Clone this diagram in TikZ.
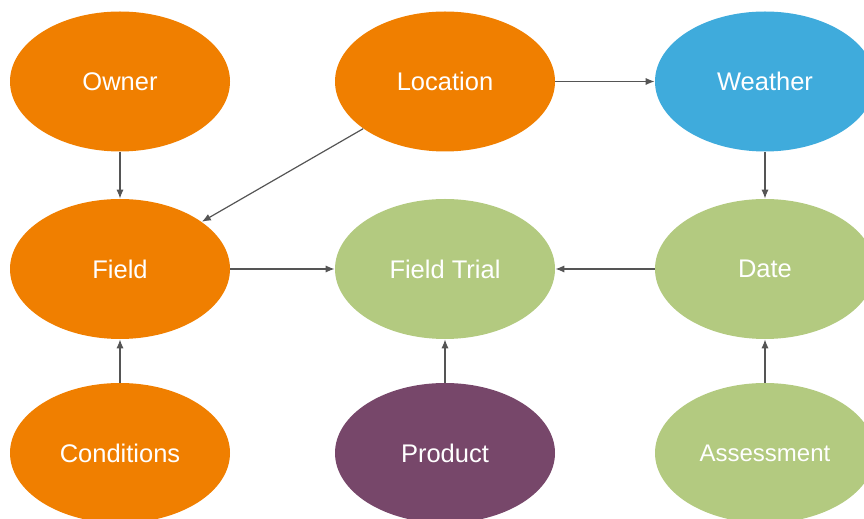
\documentclass[tikz,border=0pt]{standalone}
\usepackage{fontspec}
\setmainfont{Liberation Sans}
\usepackage{tikz}
\usetikzlibrary{shapes.geometric,arrows.meta}

\begin{document}
\begin{tikzpicture}[x=0.5pt,y=0.5pt,
	entity/.style={ellipse, minimum width=110pt, minimum height=70pt, inner sep=0pt,
		text=white, font=\fontsize{12.75}{15}\selectfont},
	link/.style={draw=linkgray, line width=0.6pt, -{Latex[length=4.5pt,width=3.6pt]}}]

	%columns and rows (px, y up)
	\def\colL{120}
	\def\colM{445}
	\def\colR{765}
	\def\rowT{437.5}
	\def\rowM{250}
	\def\rowB{66}

	\definecolor{ownerorange}{HTML}{F07F00}
	\definecolor{skyblue}{HTML}{3FABDC}
	\definecolor{trialgreen}{HTML}{B3CA80}
	\definecolor{plum}{HTML}{77476A}
	\definecolor{linkgray}{HTML}{555555}

	% page frame
	\useasboundingbox (0,0) rectangle (864,519);
	\clip (0,0) rectangle (864,519);

	% top row
	\node[entity, fill=ownerorange] (owner)    at (\colL,\rowT) {Owner};
	\node[entity, fill=ownerorange] (location) at (\colM,\rowT) {Location};
	\node[entity, fill=skyblue]     (weather)  at (\colR,\rowT) {Weather};

	% middle row
	\node[entity, fill=ownerorange] (field) at (\colL,\rowM) {Field};
	\node[entity, fill=trialgreen]  (trial) at (\colM,\rowM) {Field Trial};
	\node[entity, fill=trialgreen]  (date)  at (\colR,\rowM) {Date};

	% bottom row
	\node[entity, fill=ownerorange] (conditions) at (\colL,\rowB) {Conditions};
	\node[entity, fill=plum]        (product)    at (\colM,\rowB) {Product};
	\node[entity, fill=trialgreen, font=\fontsize{12}{14}\selectfont]
		(assessment) at (\colR,\rowB) {Assessment};

	% links
	\draw[link] (owner) -- (field);
	\draw[link] (location) -- (field);
	\draw[link] (location) -- (weather);
	\draw[link] (weather) -- (date);
	\draw[link] (field) -- (trial);
	\draw[link] (date) -- (trial);
	\draw[link] (conditions) -- (field);
	\draw[link] (product) -- (trial);
	\draw[link] (assessment) -- (date);

\end{tikzpicture}
\end{document}
